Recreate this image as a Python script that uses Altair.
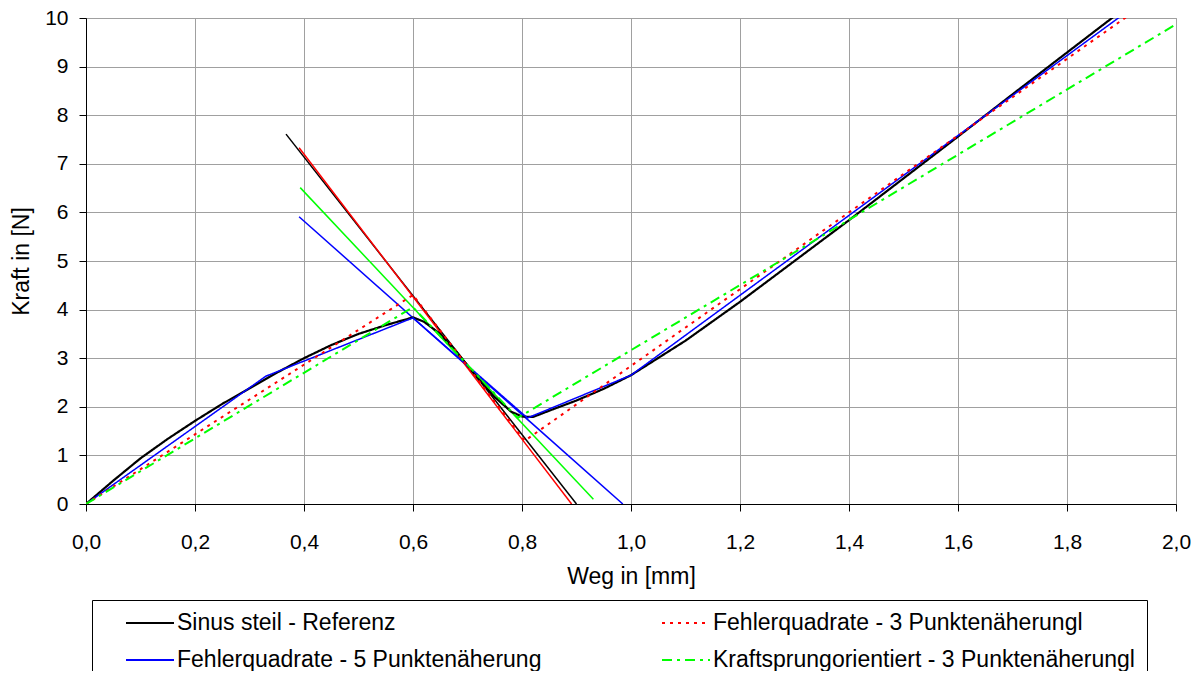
import altair as alt
import pandas as pd

S_REF = "Sinus steil - Referenz"
S_FQ3 = "Fehlerquadrate - 3 Punktenäherungl"
S_FQ5 = "Fehlerquadrate - 5 Punktenäherung"
S_KS = "Kraftsprungorientiert - 3 Punktenäherungl"

# legend order (filled column by column: left column first)
SERIES = [S_REF, S_FQ5, S_FQ3, S_KS]
COLORS = ["#000000", "#0000FF", "#FF0000", "#00FF00"]
DASHES = [[1, 0], [1, 0], [3, 5], [10, 5, 3, 5]]
WIDTHS = [2.2, 1.5, 2.0, 2.0]

# Reference curve (Sinus steil)
ref_x = [0, 0.05, 0.1, 0.15, 0.2, 0.25, 0.3, 0.35, 0.4, 0.45, 0.5, 0.55, 0.6,
         0.62, 0.65, 0.68, 0.7, 0.72, 0.75, 0.78, 0.8, 0.82, 0.85, 0.9, 0.95,
         1.0, 1.1, 1.2, 1.3, 1.4, 1.5, 1.6, 1.7, 1.8, 1.9, 2.0]
ref_y = [0, 0.48, 0.94, 1.34, 1.71, 2.06, 2.38, 2.7, 3.0, 3.27, 3.5, 3.68, 3.84,
         3.75, 3.5, 3.13, 2.85, 2.57, 2.2, 1.9, 1.8, 1.79, 1.92, 2.13, 2.37,
         2.65, 3.36, 4.16, 5.0, 5.84, 6.7, 7.56, 8.43, 9.29, 10.15, 11.0]

# Fehlerquadrate - 5 Punktenäherung
fq5_x = [0, 0.33, 0.6, 0.81, 1.0, 2.0]
fq5_y = [0, 2.63, 3.83, 1.77, 2.65, 10.87]

# Fehlerquadrate - 3 Punktenäherung
fq3_x = [0, 0.6, 0.805, 2.0]
fq3_y = [0, 4.3, 1.3, 10.74]

# Kraftsprungorientiert - 3 Punktenäherung
ks_x = [0, 0.6, 0.792, 2.0]
ks_y = [0, 4.05, 1.77, 9.87]

# Tangent lines (one per series, same order as SERIES)
tan_x0 = [0.367, 0.391, 0.391, 0.393]
tan_y0 = [7.61, 5.91, 7.33, 6.51]
tan_x1 = [0.9, 0.985, 0.891, 0.931]
tan_y1 = [0.0, 0.0, 0.0, 0.1]

x_ticks = [0, 0.2, 0.4, 0.6, 0.8, 1.0, 1.2, 1.4, 1.6, 1.8, 2.0]
y_ticks = [0, 1, 2, 3, 4, 5, 6, 7, 8, 9, 10]

rows = []
for name, xs, ys, w in zip(SERIES, [ref_x, fq5_x, fq3_x, ks_x],
                           [ref_y, fq5_y, fq3_y, ks_y], WIDTHS):
    for xv, yv in zip(xs, ys):
        rows.append({"Reihe": name, "x": xv, "y": yv, "w": w})
curves = pd.DataFrame(rows)

trows = []
for i, col in enumerate(COLORS):
    trows.append({"id": i, "col": col, "x": tan_x0[i], "y": tan_y0[i]})
    trows.append({"id": i, "col": col, "x": tan_x1[i], "y": tan_y1[i]})
tangents = pd.DataFrame(trows)

FONT = "Liberation Sans"

x_scale = alt.Scale(domain=[0, 2], nice=False, zero=False)
y_scale = alt.Scale(domain=[0, 10], nice=False)

x_axis = alt.Axis(values=x_ticks, title="Weg in [mm]",
                  labelExpr="replace(format(datum.value, '.1f'), '.', ',')",
                  labelFlush=False, labelOverlap=False,
                  labelPadding=20, titlePadding=13)
y_axis = alt.Axis(values=y_ticks, title="Kraft in [N]", format="d",
                  labelPadding=11, titlePadding=11)

leg = alt.Legend(title=None, orient="none", legendX=6, legendY=582, columns=2)

tan_layer = alt.Chart(tangents).mark_line(clip=True, strokeWidth=1.5).encode(
    x=alt.X("x:Q", scale=x_scale, axis=x_axis),
    y=alt.Y("y:Q", scale=y_scale, axis=y_axis),
    detail="id:N",
    stroke=alt.Stroke("col:N", scale=None, legend=None),
)

curve_layer = alt.Chart(curves).mark_line(clip=True).encode(
    x=alt.X("x:Q", scale=x_scale, axis=x_axis),
    y=alt.Y("y:Q", scale=y_scale, axis=y_axis),
    color=alt.Color("Reihe:N", scale=alt.Scale(domain=SERIES, range=COLORS),
                    legend=leg, sort=SERIES),
    strokeDash=alt.StrokeDash("Reihe:N",
                              scale=alt.Scale(domain=SERIES, range=DASHES),
                              legend=leg, sort=SERIES),
    strokeWidth=alt.StrokeWidth("w:Q", scale=None, legend=None),
)

chart = alt.layer(tan_layer, curve_layer).properties(
    width=1090, height=486,
    autosize=alt.AutoSizeParams(type="none"),
    padding={"left": 78, "top": 10, "right": 19, "bottom": 167},
    background="white",
).configure_view(
    stroke="#a0a0a0", strokeWidth=1
).configure_axis(
    labelFont=FONT, titleFont=FONT, labelFontSize=21, titleFontSize=23,
    titleFontWeight="normal", labelColor="black", titleColor="black",
    gridColor="#a0a0a0", gridWidth=1, gridOpacity=1,
    domainColor="black", domainWidth=1, tickColor="black", tickSize=7,
    tickWidth=1,
).configure_legend(
    labelFont=FONT, labelFontSize=23, labelColor="black", labelLimit=600,
    symbolType="stroke", symbolSize=2304, symbolStrokeWidth=2,
    strokeColor="black", padding=12, rowPadding=14, columnPadding=98,
    symbolOffset=21, labelOffset=2, clipHeight=22,
)

chart.save("out.html", embed_options={"renderer": "svg", "actions": False})
